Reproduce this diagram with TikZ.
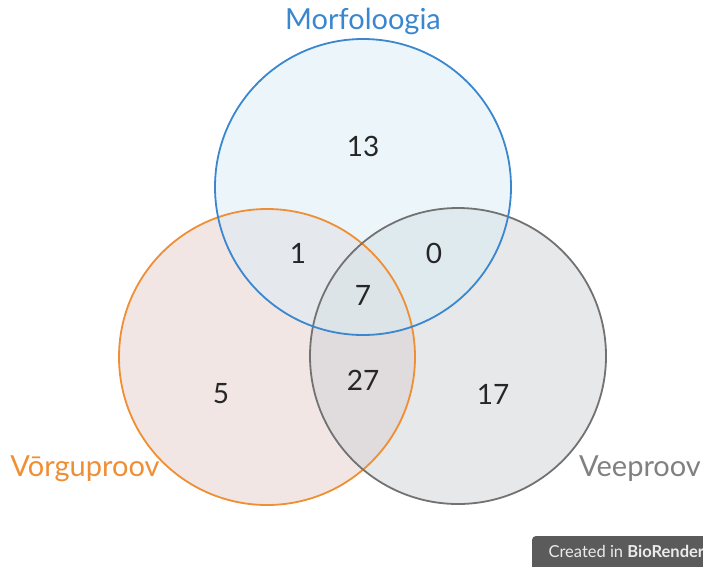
\documentclass[tikz,border=0pt]{standalone}
\usepackage{fontspec}
\setmainfont{Lato}
\definecolor{mblue}{HTML}{3A86CF}
\definecolor{morange}{HTML}{EF8E33}
\definecolor{mgray}{HTML}{727272}
\definecolor{fblue}{RGB}{217,237,245}
\definecolor{forange}{RGB}{229,205,203}
\definecolor{fgray}{RGB}{207,209,213}
\definecolor{badge}{HTML}{5B5B5B}
\tikzset{
  setcircle/.style={circle, minimum size=296pt, inner sep=0pt, line width=1.8pt},
  num/.style={font=\fontsize{28}{33}\selectfont, text=black!85},
  setlabel/.style={font=\fontsize{29}{34}\selectfont}
}
\begin{document}
\begin{tikzpicture}[x=1pt,y=-1pt]
\useasboundingbox (0,0) rectangle (703,566);
% fills
\fill[forange, opacity=0.5] (267,357) circle[radius=148pt];
\fill[fgray, opacity=0.5] (458,356) circle[radius=148pt];
\fill[fblue, opacity=0.5] (363,187) circle[radius=148pt];
% outlines
\node[setcircle, draw=morange] (V) at (267,357) {};
\node[setcircle, draw=mgray] (W) at (458,356) {};
\node[setcircle, draw=mblue] (M) at (363,187) {};
\node[setlabel, text=mblue] (lm) at (363,21) {Morfoloogia};
\node[setlabel, text=morange] (lv) at (85,469) {Vōrguproov};
\node[setlabel, text=mgray!90] (lw) at (640,469) {Veeproov};
\node[num] (n13) at (363,146) {13};
\node[num] (n1) at (298,253) {1};
\node[num] (n0) at (434,253) {0};
\node[num] (n7) at (363,295) {7};
\node[num] (n5) at (221,394) {5};
\node[num] (n27) at (363,380) {27};
\node[num] (n17) at (493,394) {17};
\begin{scope}
\clip (0,0) rectangle (703,566);
\fill[badge, rounded corners=4pt] (532,536) rectangle (720,580);
\node[anchor=west, text=white!92!black, font=\fontsize{16.5}{19}\selectfont] (cb) at (545,551) {Created in \textbf{BioRender}};
\end{scope}
\end{tikzpicture}
\end{document}
